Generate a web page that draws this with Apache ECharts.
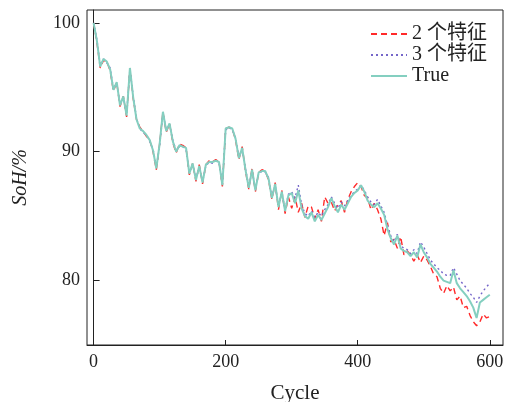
<!DOCTYPE html>
<html>
<head>
<meta charset="utf-8">
<script src="https://cdn.jsdelivr.net/npm/echarts@6/dist/echarts.min.js"></script>
<style>html,body{margin:0;padding:0;background:#fff;}#c{width:509px;height:402px;}</style>
</head>
<body>
<div id="c"></div>
<script>
const cycles = Array.from({length: 121}, (_, i) => i * 5);
const xTicks = [0, 200, 400, 600];
const yTicks = [80, 90, 100];
const seriesNames = ['2 个特征', '3 个特征', 'True'];

const trueVals = [
100.0,98.6,96.6,97.2,97.0,96.4,94.8,95.4,93.6,94.3,
92.8,96.5,94.2,92.5,91.8,91.6,91.3,90.9,90.1,88.7,
90.6,93.1,91.6,92.2,90.8,90.0,90.5,90.4,90.3,88.3,
89.1,87.8,88.9,87.6,89.0,89.2,89.2,89.3,89.2,87.4,
91.8,91.9,91.8,91.0,89.5,90.3,88.6,87.2,88.6,87.0,
88.4,88.5,88.5,87.9,86.4,87.5,85.7,86.9,85.4,86.6,
86.8,86.0,87.0,85.6,85.0,84.8,85.3,84.6,85.1,84.7,
85.2,85.7,86.4,85.8,85.3,85.9,85.5,86.0,86.5,86.8,
87.0,87.4,86.9,86.2,85.9,85.7,86.0,85.6,85.1,84.0,
83.3,82.8,83.5,82.5,82.3,82.2,81.9,82.2,81.8,82.8,
82.2,81.8,81.3,81.0,80.7,80.3,80.0,79.9,79.8,80.8,
79.8,79.4,79.1,78.8,78.4,77.9,77.1,78.3,78.5,78.7,
78.9
];

const pred3Vals = [
100.0,98.7,96.7,97.2,96.9,96.5,94.9,95.3,93.7,94.2,
92.9,96.4,94.3,92.6,91.8,91.5,91.3,90.8,90.2,88.8,
90.5,93.0,91.7,92.1,90.9,90.1,90.4,90.4,90.2,88.4,
89.0,87.9,88.8,87.7,88.9,89.2,89.1,89.3,89.1,87.5,
91.7,91.9,91.7,91.1,89.6,90.2,88.7,87.3,88.5,87.1,
88.3,88.5,88.4,88.0,86.5,87.4,85.8,86.8,85.5,86.7,
86.9,86.4,87.4,85.9,85.2,85.0,85.4,84.9,85.3,85.0,
85.5,85.9,86.5,86.0,85.6,86.1,85.8,86.2,86.6,86.9,
87.1,87.4,87.0,86.5,86.1,85.9,86.3,85.8,85.3,84.3,
83.5,83.0,83.6,82.7,82.5,82.4,82.1,82.4,82.1,83.0,
82.6,82.1,81.6,81.3,81.0,80.8,80.5,80.4,80.4,81.0,
80.5,80.0,79.7,79.4,79.0,78.7,78.3,78.8,79.2,79.5,
79.8
];

const pred2Vals = [
100.0,98.5,96.5,97.1,97.0,96.3,94.7,95.4,93.5,94.3,
92.7,96.5,94.1,92.5,91.9,91.6,91.2,90.9,90.0,88.6,
90.6,93.1,91.5,92.2,90.7,89.9,90.6,90.5,90.3,88.2,
89.1,87.7,89.0,87.5,89.0,89.3,89.2,89.4,89.2,87.3,
91.8,91.9,91.8,90.9,89.4,90.4,88.5,87.1,88.7,86.9,
88.4,88.6,88.5,87.8,86.3,87.6,85.5,87.0,85.2,86.5,
85.6,86.5,85.3,86.0,84.9,85.8,85.7,84.8,85.5,84.6,
86.5,86.0,86.1,85.4,85.9,86.2,85.3,86.3,86.9,87.3,
87.6,87.3,86.6,86.4,85.5,86.0,85.5,84.8,83.5,84.5,
83.0,83.2,82.5,83.4,82.0,82.3,82.0,81.5,82.0,81.4,
81.9,81.6,81.1,80.5,80.3,79.4,79.0,79.6,79.2,79.5,
78.5,78.8,77.9,78.0,77.3,76.8,76.5,76.8,77.4,77.1,
77.2
];

const pair = vals => cycles.map((c, i) => [c, vals[i]]);
const fontFam = '"Liberation Serif", "Times New Roman", "Noto Sans CJK SC", serif';

const chart = echarts.init(document.getElementById('c'), null, {renderer: 'canvas'});
chart.setOption({
  animation: false,
  backgroundColor: '#fff',
  grid: {left: 87, right: 6, top: 10, bottom: 57, outerBoundsMode: 'none', containLabel: false,
         show: true, borderColor: '#222', borderWidth: 1, backgroundColor: 'transparent'},
  legend: {
    orient: 'vertical', right: 17, top: 19, itemWidth: 36, itemHeight: 10, itemGap: 1,
    itemStyle: {opacity: 0},
    textStyle: {fontFamily: fontFam, fontSize: 20, color: '#222'},
    data: seriesNames
  },
  xAxis: {
    type: 'value', min: -10, max: 620,
    name: 'Cycle', nameLocation: 'middle', nameGap: 38,
    nameTextStyle: {fontFamily: fontFam, fontSize: 21, color: '#222'},
    axisLine: {show: true, lineStyle: {color: '#222', width: 1}},
    axisTick: {show: true, inside: true, length: 5, customValues: xTicks, lineStyle: {color: '#222'}},
    axisLabel: {customValues: xTicks, fontFamily: fontFam, fontSize: 18, color: '#222', margin: 8},
    splitLine: {show: false}
  },
  yAxis: {
    type: 'value', min: 75, max: 101,
    name: 'SoH/%', nameLocation: 'middle', nameGap: 56,
    nameTextStyle: {fontFamily: fontFam, fontSize: 20, color: '#222', fontStyle: 'italic'},
    axisLine: {show: true, lineStyle: {color: '#222', width: 1}},
    axisTick: {show: true, inside: true, length: 6, customValues: yTicks, lineStyle: {color: '#222'}},
    axisLabel: {customValues: yTicks, fontFamily: fontFam, fontSize: 18, color: '#222', margin: 7},
    splitLine: {show: false}
  },
  series: [
    {name: seriesNames[0], type: 'line', data: pair(pred2Vals), symbol: 'none',
     lineStyle: {color: '#ff2a2a', width: 1.4, type: [6, 4]}, itemStyle: {color: '#ff2a2a'}},
    {name: seriesNames[1], type: 'line', data: pair(pred3Vals), symbol: 'none',
     lineStyle: {color: '#7566c9', width: 1.4, type: [2, 3]}, itemStyle: {color: '#7566c9'}},
    {name: seriesNames[2], type: 'line', data: pair(trueVals), symbol: 'none',
     lineStyle: {color: '#84cfc0', width: 2}, itemStyle: {color: '#84cfc0'}}
  ]
});
</script>
</body>
</html>
